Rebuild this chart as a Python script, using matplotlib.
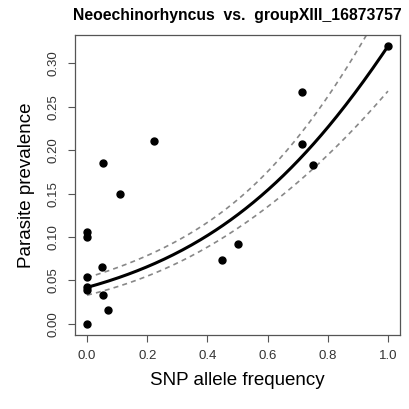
import numpy as np
import matplotlib
matplotlib.use("Agg")
import matplotlib.pyplot as plt

plt.rcParams['font.family'] = ['Liberation Sans', 'DejaVu Sans']

# données observées (fréquence allélique, prévalence)
snp_freq = [0.0, 0.0, 0.0, 0.0, 0.0, 0.0, 0.049, 0.054, 0.068, 0.054,
            0.11, 0.223, 0.447, 0.5, 0.714, 0.714, 0.752, 1.0]
prevalence = [0.106, 0.100, 0.054, 0.042, 0.039, 0.0, 0.066, 0.033, 0.016, 0.185,
              0.150, 0.211, 0.074, 0.092, 0.267, 0.207, 0.183, 0.320]

# ajustement logistique (échelle logit) et demi-largeur de l'intervalle
intercept = -3.127
slope = 2.373
half_base = 0.15
half_curv = 0.16
x_mid = 0.5

xticks = [0.0, 0.2, 0.4, 0.6, 0.8, 1.0]
yticks = [0.00, 0.05, 0.10, 0.15, 0.20, 0.25, 0.30]

fig = plt.figure(figsize=(4.09, 4.09), dpi=100)
ax = fig.add_axes([0.1834, 0.181, 0.7946, 0.7334])

xs = np.linspace(0, 1, 200)
eta = intercept + slope * xs
half = np.sqrt(half_base ** 2 + half_curv * (xs - x_mid) ** 2)
inv = lambda z: 1 / (1 + np.exp(-z))

ax.plot(xs, inv(eta + half), color='#888888', lw=1.2, ls=(0, (3, 2.5)))
ax.plot(xs, inv(eta - half), color='#888888', lw=1.2, ls=(0, (3, 2.5)))
ax.plot(xs, inv(eta), color='black', lw=2.2)
ax.plot(snp_freq, prevalence, 'o', color='black', ms=5)

ax.set_xlim(-0.04, 1.04)
ax.set_ylim(-0.0128, 0.3328)
ax.set_xticks(xticks)
ax.set_xticklabels(['%.1f' % v for v in xticks], fontsize=9.5, color='#333333')
ax.set_yticks(yticks)
ax.set_yticklabels(['%.2f' % v for v in yticks], fontsize=9.5, color='#333333',
                   rotation=90, va='center')
ax.tick_params(direction='out', length=5, width=0.8, color='#555555', pad=6)
for s in ax.spines.values():
    s.set_color('#555555')
    s.set_linewidth(0.9)

ax.set_xlabel('SNP allele frequency', fontsize=13.5, labelpad=7)
ax.set_ylabel('Parasite prevalence', fontsize=13.5, labelpad=9)
ax.set_title('Neoechinorhyncus  vs.  groupXIII_16873757', fontsize=11.3,
             fontweight='bold', pad=11)

plt.savefig('out.png', dpi=100)
